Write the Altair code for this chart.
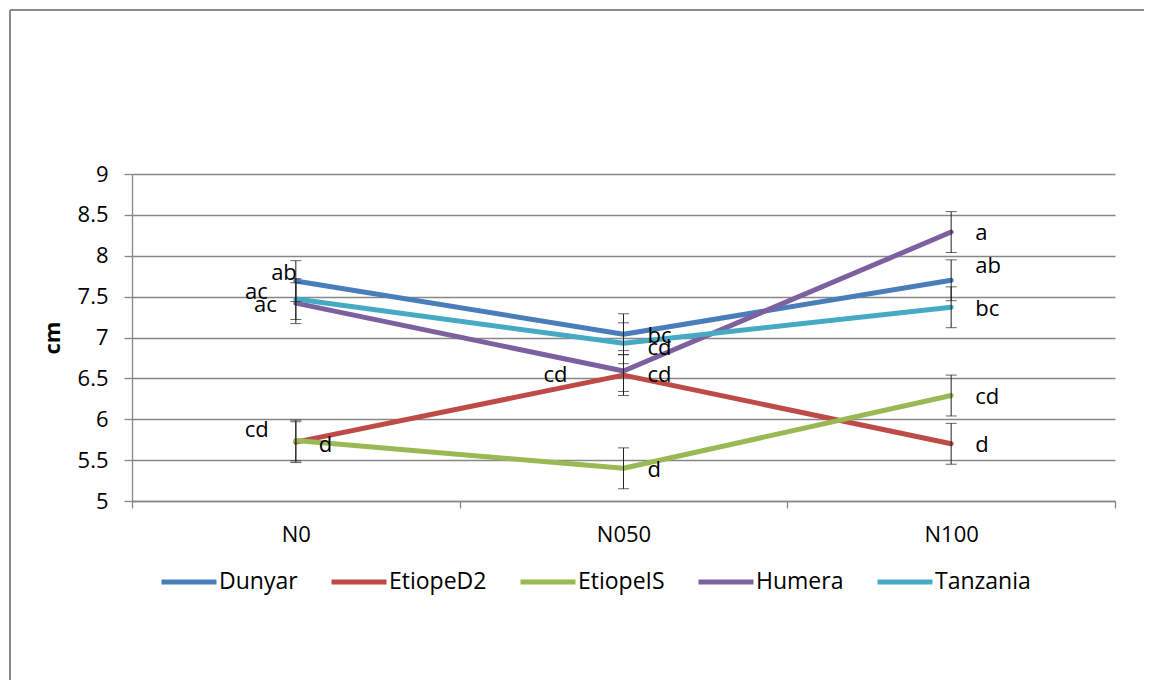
import altair as alt
import pandas as pd

# ---- data ----
levels = ["N0", "N050", "N100"]
varieties = ["Dunyar", "EtiopeD2", "EtiopeIS", "Humera", "Tanzania"]
dunyar = [7.69, 7.04, 7.70]
etioped2 = [5.72, 6.54, 5.70]
etopeis = [5.74, 5.40, 6.29]
humera = [7.42, 6.59, 8.29]
tanzania = [7.47, 6.93, 7.37]
err_dunyar = [0.25, 0.25, 0.25]
err_etioped2 = [0.25, 0.25, 0.25]
err_etopeis = [0.25, 0.25, 0.25]
err_humera = [0.25, 0.25, 0.25]
err_tanzania = [0.25, 0.25, 0.25]
let_dunyar = ["ab", "bc", "ab"]
let_etioped2 = ["cd", "cd", "d"]
let_etopeis = ["d", "d", "cd"]
let_humera = ["ac", "cd", "a"]
let_tanzania = ["ac", "cd", "bc"]
y_ticks = [5, 5.5, 6, 6.5, 7, 7.5, 8, 8.5, 9]

colors = ["#4a7ebb", "#be4b48", "#98b954", "#7d60a0", "#46aac5"]

series_vals = [dunyar, etioped2, etopeis, humera, tanzania]
series_err = [err_dunyar, err_etioped2, err_etopeis, err_humera, err_tanzania]
series_let = [let_dunyar, let_etioped2, let_etopeis, let_humera, let_tanzania]

rows = []
for v, vals, errs, lets in zip(varieties, series_vals, series_err, series_let):
    for lvl, val, e, lt in zip(levels, vals, errs, lets):
        rows.append(dict(variety=v, level=lvl, value=val, lo=val - e, hi=val + e, letter=lt))
df = pd.DataFrame(rows)

# label placement (style): (align, dx, dy) relative to point
placement = {
    ("Dunyar", "N0"): ("right", 1, -8),
    ("Tanzania", "N0"): ("right", -28, -7),
    ("Humera", "N0"): ("right", -19, 2),
    ("EtiopeD2", "N0"): ("right", -27, -12),
    ("EtiopeIS", "N0"): ("left", 23, 4),
    ("Dunyar", "N050"): ("left", 24, 2),
    ("Tanzania", "N050"): ("left", 24, 5),
    ("Humera", "N050"): ("left", 24, 4),
    ("EtiopeD2", "N050"): ("right", -56, 0),
    ("EtiopeIS", "N050"): ("left", 24, 2),
    ("Humera", "N100"): ("left", 24, 1),
    ("Dunyar", "N100"): ("left", 24, -14),
    ("Tanzania", "N100"): ("left", 24, 2),
    ("EtiopeIS", "N100"): ("left", 24, 1),
    ("EtiopeD2", "N100"): ("left", 24, 1),
}

FONT = "Open Sans"
GRAY = "#878787"
W, H = 983, 327

xscale = alt.Scale(type="band", domain=levels, paddingInner=0, paddingOuter=0)
yscale = alt.Scale(domain=[5, 9], nice=False, zero=False)

x_axis = alt.Axis(title=None, tickBand="extent", labelFont=FONT, labelFontSize=22,
                  labelColor="#000000", labelPadding=16, tickSize=7, tickColor=GRAY,
                  tickWidth=1.3, domainColor=GRAY, domainWidth=1.3, grid=False, labelAngle=0)
y_axis = alt.Axis(title="cm", values=y_ticks, format="~g", labelFont=FONT, labelFontSize=22,
                  labelColor="#000000", labelPadding=16, tickSize=8, tickColor=GRAY,
                  tickWidth=1.3, domainColor=GRAY, domainWidth=1.3, gridColor=GRAY,
                  gridWidth=1.3, titleFont=FONT, titleFontSize=22, titleFontWeight="bold",
                  titleColor="#000000", titleAngle=-90, titleX=-80, titleY=H / 2,
                  titleAlign="center", titleBaseline="middle")

x_enc = alt.X("level:N", sort=levels, bandPosition=0.5, scale=xscale, axis=x_axis)
y_val = alt.Y("value:Q", scale=yscale, axis=y_axis, title="cm")
y_lo = alt.Y("lo:Q", scale=yscale, axis=y_axis, title="cm")
y_hi = alt.Y("hi:Q", scale=yscale, axis=y_axis, title="cm")

base = alt.Chart(df)

lines = base.mark_line(strokeWidth=5, strokeCap="round", strokeJoin="round").encode(
    x=x_enc,
    y=y_val,
    color=alt.Color("variety:N", sort=varieties,
                    scale=alt.Scale(domain=varieties, range=colors),
                    legend=alt.Legend(orient="none", legendX=27, legendY=378,
                                      direction="horizontal", title=None,
                                      symbolType="stroke", symbolSize=3025,
                                      symbolStrokeWidth=5, labelFont=FONT,
                                      labelFontSize=23, labelColor="#000000",
                                      labelOffset=0, columnPadding=23, padding=0)),
    detail="variety:N",
)

err_rule = base.mark_rule(color="#222222", strokeWidth=1).encode(
    x=x_enc, y=y_lo, y2="hi:Q")
cap_lo = base.mark_tick(color="#222222", thickness=1, size=11, orient="horizontal").encode(
    x=x_enc, y=y_lo)
cap_hi = base.mark_tick(color="#222222", thickness=1, size=11, orient="horizontal").encode(
    x=x_enc, y=y_hi)

labels = []
for (v, lvl), (al, dx, dy) in placement.items():
    labels.append(
        base.transform_filter((alt.datum.variety == v) & (alt.datum.level == lvl))
        .mark_text(align=al, baseline="middle", dx=dx, dy=dy, font=FONT, fontSize=22,
                   color="#000000")
        .encode(x=x_enc, y=y_val, text="letter:N")
    )

frame_df = pd.DataFrame({"a": [0]})
frame_left = alt.Chart(frame_df).mark_rule(color="#8a8a8a", strokeWidth=2).encode(
    x=alt.value(-122), y=alt.value(-164), y2=alt.value(H + 200))
frame_top = alt.Chart(frame_df).mark_rule(color="#8a8a8a", strokeWidth=2).encode(
    x=alt.value(-122), x2=alt.value(W + 200), y=alt.value(-164))

chart = alt.layer(lines, err_rule, cap_lo, cap_hi, *labels, frame_left, frame_top).properties(
    width=W, height=H,
    padding={"left": 124, "top": 166, "right": 29, "bottom": 179},
    autosize=alt.AutoSizeParams(type="none"),
    background="white",
).configure_view(stroke=None)

chart.save("out.html", embed_options={"renderer": "svg", "actions": False})
